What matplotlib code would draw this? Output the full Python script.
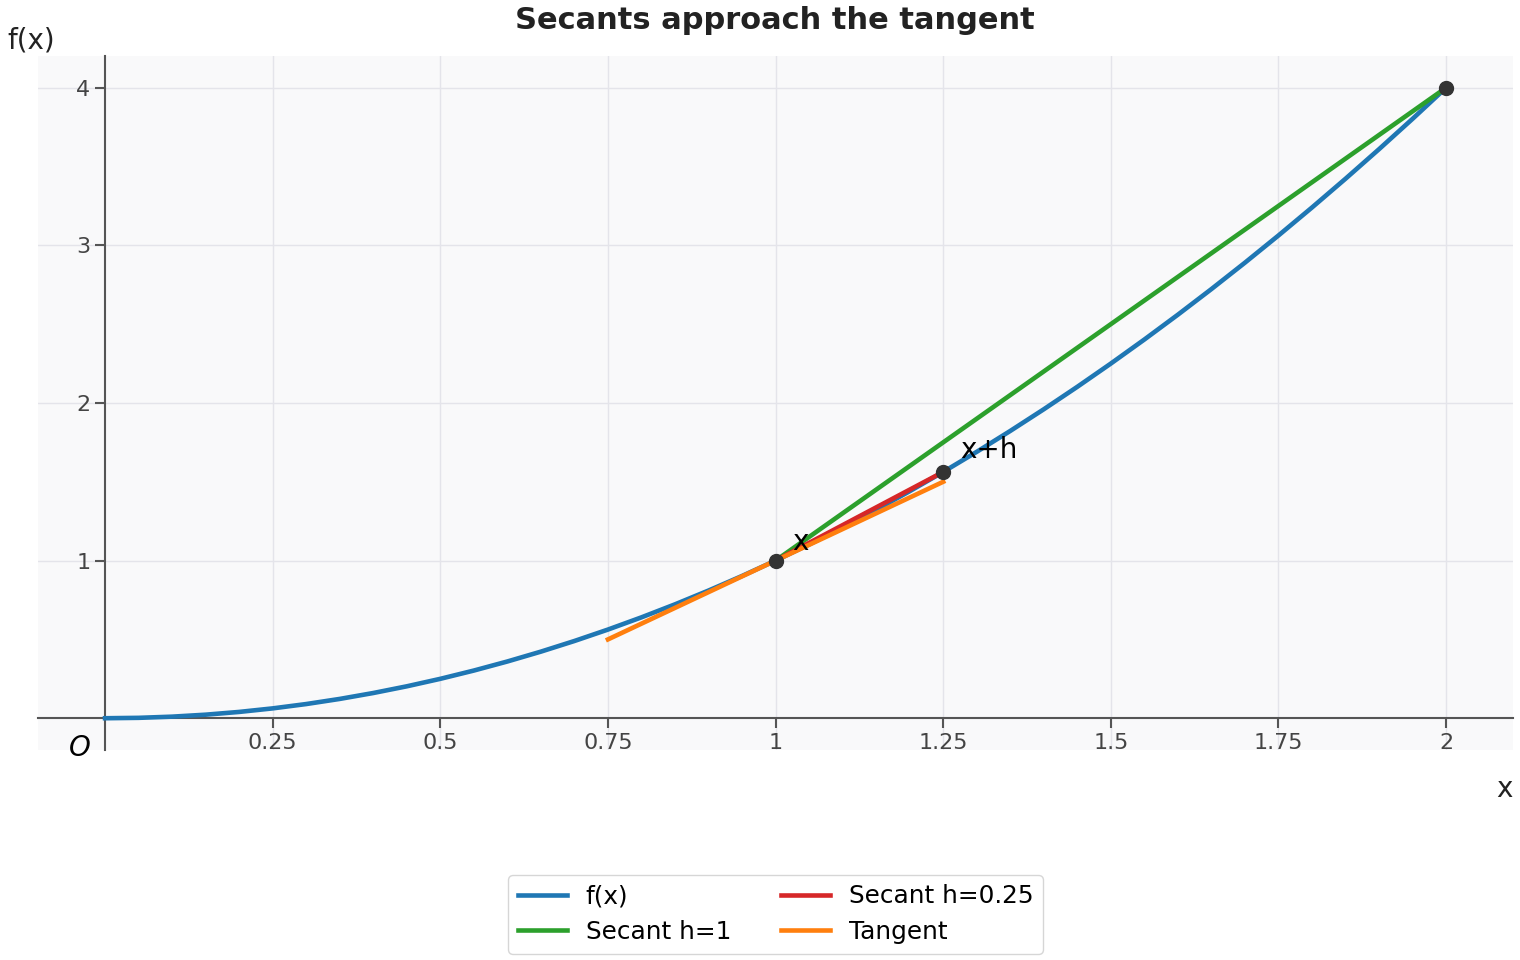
import matplotlib.pyplot as plt

# curve samples of f(x)
curve_x = [0.0, 0.05, 0.1, 0.15, 0.2, 0.25, 0.3, 0.35, 0.4, 0.45, 0.5,
           0.55, 0.6, 0.65, 0.7, 0.75, 0.8, 0.85, 0.9, 0.95, 1.0,
           1.05, 1.1, 1.15, 1.2, 1.25, 1.3, 1.35, 1.4, 1.45, 1.5,
           1.55, 1.6, 1.65, 1.7, 1.75, 1.8, 1.85, 1.9, 1.95, 2.0]
curve_y = [0.0, 0.0025, 0.01, 0.0225, 0.04, 0.0625, 0.09, 0.1225, 0.16, 0.2025, 0.25,
           0.3025, 0.36, 0.4225, 0.49, 0.5625, 0.64, 0.7225, 0.81, 0.9025, 1.0,
           1.1025, 1.21, 1.3225, 1.44, 1.5625, 1.69, 1.8225, 1.96, 2.1025, 2.25,
           2.4025, 2.56, 2.7225, 2.89, 3.0625, 3.24, 3.4225, 3.61, 3.8025, 4.0]

# secants and tangent
secant1_x = [1.0, 2.0]
secant1_y = [1.0, 4.0]
secant2_x = [1.0, 1.25]
secant2_y = [1.0, 1.5625]
tangent_x = [0.75, 1.25]
tangent_y = [0.5, 1.5]

# highlighted points
points_x = [1.0, 1.25, 2.0]
points_y = [1.0, 1.5625, 4.0]

x_ticks = [0.25, 0.5, 0.75, 1, 1.25, 1.5, 1.75, 2]
x_tick_labels = ['0.25', '0.5', '0.75', '1', '1.25', '1.5', '1.75', '2']
y_ticks = [1, 2, 3, 4]
y_tick_labels = ['1', '2', '3', '4']

fig = plt.figure(figsize=(15.2, 9.6), dpi=100)
ax = fig.add_axes([0.025, 0.219, 0.9705, 0.7225])
ax.set_facecolor('#f9f9fa')

lw = 3.3
ax.plot(curve_x, curve_y, color='#1f77b4', lw=lw, label='f(x)', zorder=3)
ax.plot(secant1_x, secant1_y, color='#2ca02c', lw=lw, label='Secant h=1', zorder=4)
ax.plot(secant2_x, secant2_y, color='#d62728', lw=lw, label='Secant h=0.25', zorder=5)
ax.plot(tangent_x, tangent_y, color='#ff7f0e', lw=lw, label='Tangent', zorder=6)
ax.plot(points_x, points_y, 'o', color='#333333', ms=10, zorder=7)

ax.text(1.025, 1.07, 'x', fontsize=20, zorder=8)
ax.text(1.275, 1.65, 'x+h', fontsize=20, zorder=8)

ax.set_xlim(-0.1, 2.1)
ax.set_ylim(-0.2, 4.2)

# spines through origin
ax.spines['left'].set_position(('data', 0))
ax.spines['bottom'].set_position(('data', 0))
ax.spines['right'].set_visible(False)
ax.spines['top'].set_visible(False)
for s in ['left', 'bottom']:
    ax.spines[s].set_color('#555555')
    ax.spines[s].set_linewidth(1.5)

ax.set_xticks(x_ticks)
ax.set_xticklabels(x_tick_labels)
ax.set_yticks(y_ticks)
ax.set_yticklabels(y_tick_labels)
ax.tick_params(axis='both', colors='#555555', labelcolor='#444444',
               labelsize=16, length=7, width=1.5, direction='out')
ax.grid(True, color='#e4e4ea', lw=1, zorder=0)
ax.set_axisbelow(True)

ax.text(-0.022, -0.1, 'O', fontsize=20, style='italic', ha='right', va='top')
fig.text(0.005, 0.958, 'f(x)', fontsize=20, ha='left', va='center', color='#222222')
fig.text(0.995, 0.178, 'x', fontsize=20, ha='right', va='center', color='#222222')
fig.text(0.51, 0.979, 'Secants approach the tangent', fontsize=22, fontweight='bold',
         ha='center', va='center', color='#222222')

leg = ax.legend(loc='upper center', bbox_to_anchor=(0.5, -0.18), ncol=2, borderaxespad=0,
                fontsize=17.8, frameon=True, handlelength=2.0, columnspacing=2.0,
                handletextpad=0.75, labelspacing=0.45)
leg.get_frame().set_edgecolor('#cccccc')

fig.savefig('out.png', dpi=100)
